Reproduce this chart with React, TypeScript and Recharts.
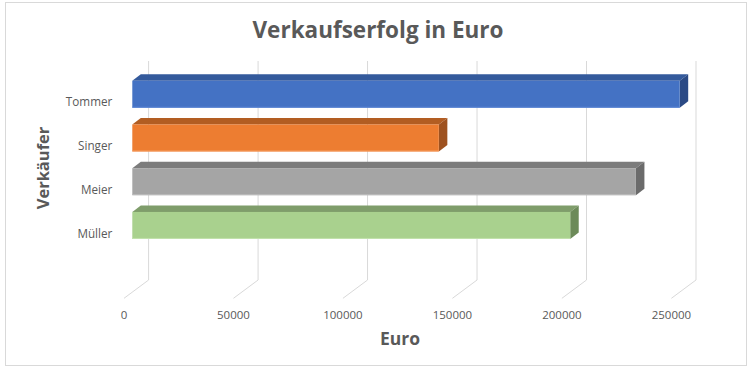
import React from 'react';
import { BarChart, Bar, XAxis, YAxis, CartesianGrid } from 'recharts';

const categories = ['Tommer', 'Singer', 'Meier', 'Müller'];
const values = [250000, 140000, 230000, 200000];
const xTicks = [0, 50000, 100000, 150000, 200000, 250000];

const data = categories.map((name, i) => ({ name, value: values[i] }));

const frontColors = ['#4472C4', '#ED7D31', '#A5A5A5', '#A9D18E'];
const topColors = ['#345A9C', '#B25D22', '#7C7C7C', '#7F9D6B'];
const sideColors = ['#2B4A85', '#9E5220', '#6B6B6B', '#6C8A59'];
const edgeColors = ['#5A86D6', '#F59A5C', '#BDBDBD', '#C3E2AE'];

const FONT = "'Open Sans', 'Noto Sans', sans-serif";
const TEXT = '#595959';
const GRID = '#d9d9d9';

// 3D offsets
const DX = 8.5;
const DY = 6.5;
const BX = 16.3;
const BY = 11.7;
const FX = -8.3;
const FY = 6.6;

const Bar3D = (props: any) => {
  const { x, y, width, height, index } = props;
  if (width == null || height == null) return null;
  const w = width;
  const h = height;
  const top = `M${x},${y} L${x + DX},${y - DY} L${x + w + DX},${y - DY} L${x + w},${y} Z`;
  const side = `M${x + w},${y} L${x + w + DX},${y - DY} L${x + w + DX},${y + h - DY} L${x + w},${y + h} Z`;
  return (
    <g>
      <path d={top} fill={topColors[index]} />
      <path d={side} fill={sideColors[index]} />
      <rect x={x} y={y} width={w} height={h} fill={frontColors[index]} />
      <line x1={x} y1={y + h - 0.5} x2={x + w} y2={y + h - 0.5} stroke={edgeColors[index]} strokeWidth={1} />
    </g>
  );
};

const GridLine = (p: any) => {
  const d = `M${p.x1 + BX},${p.y1 - BY} L${p.x1 + BX},${p.y2 - BY} L${p.x1 + FX},${p.y2 + FY}`;
  return <path key={p.key} d={d} stroke={GRID} strokeWidth={1} fill="none" />;
};

const XTick = (p: any) => {
  const { x, y, payload } = p;
  return (
    <text x={x + FX} y={y + 23} textAnchor="middle" dominantBaseline="central" fontFamily={FONT} fontSize={11.5} fill={TEXT} stroke="none" style={{ fill: TEXT }}>
      {payload.value}
    </text>
  );
};

const YTick = (p: any) => {
  const { x, y, payload } = p;
  return (
    <text x={x - 20} y={y + 6.7} textAnchor="end" dominantBaseline="central" fontFamily={FONT} fontSize={11.7} fill={TEXT} stroke="none" style={{ fill: TEXT }}>
      {payload.value}
    </text>
  );
};

export default function App() {
  return (
    <div style={{ position: 'absolute', left: 0, top: 0, width: 750, height: 370, background: '#fff' }}>
      <BarChart
        width={750}
        height={370}
        data={data}
        layout="vertical"
        margin={{ top: 72.7, right: 70.3, bottom: 48.3, left: 0 }}
      >
        <CartesianGrid horizontal={false} vertical={GridLine} />
        <XAxis
          type="number"
          domain={[0, 250000]}
          ticks={xTicks}
          axisLine={false}
          tickLine={false}
          tickSize={0}
          tickMargin={0}
          height={30}
          tick={XTick}
          interval={0}
        />
        <YAxis
          type="category"
          dataKey="name"
          width={132.3}
          axisLine={false}
          tickLine={false}
          tickSize={0}
          tickMargin={0}
          tick={YTick}
          padding={{ top: 0, bottom: 44 }}
          interval={0}
        />
        <Bar dataKey="value" barSize={27} shape={Bar3D} isAnimationActive={false} />
      </BarChart>
      <svg width={750} height={370} style={{ position: 'absolute', left: 0, top: 0, pointerEvents: 'none' }}>
        <rect x={5.5} y={2.5} width={741} height={363} fill="none" stroke={GRID} strokeWidth={1} />
        <text x={378} y={38} textAnchor="middle" fontFamily={FONT} fontWeight="bold" fontSize={22.5} fill={TEXT}>
          Verkaufserfolg in Euro
        </text>
        <text x={400} y={338} textAnchor="middle" dominantBaseline="central" fontFamily={FONT} fontWeight="bold" fontSize={17.5} fill={TEXT}>
          Euro
        </text>
        <text
          x={42}
          y={168}
          textAnchor="middle"
          dominantBaseline="central"
          fontFamily={FONT}
          fontWeight="bold"
          fontSize={16.5}
          fill={TEXT}
          transform="rotate(-90 42 168)"
        >
          Verkäufer
        </text>
      </svg>
    </div>
  );
}
